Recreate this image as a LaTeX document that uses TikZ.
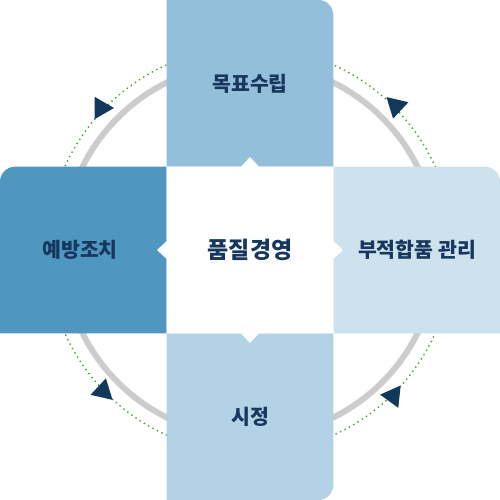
\documentclass[tikz,border=0pt]{standalone}
\usepackage{fontspec}
\newfontfamily\kr{Noto Sans CJK KR}
\definecolor{topc}{HTML}{93BFDA}
\definecolor{leftc}{HTML}{4F97C0}
\definecolor{rightc}{HTML}{CEE2EE}
\definecolor{botc}{HTML}{B3D2E5}
\definecolor{txtc}{HTML}{17375E}
\definecolor{arrc}{HTML}{12395C}
\definecolor{ringc}{HTML}{CCCCCC}
\definecolor{dotc}{HTML}{4E9A3A}
\tikzset{
  lbl/.style={font=\kr\bfseries\fontsize{20.5}{23}\selectfont, text=txtc, inner sep=0pt},
  clbl/.style={font=\kr\bfseries\fontsize{23}{26}\selectfont, text=txtc, inner sep=0pt},
  tri/.style={fill=arrc}
}
\begin{document}
\begin{tikzpicture}[x=1pt,y=1pt]
\useasboundingbox (0,0) rectangle (500,500);
% rings
\draw[ringc, line width=6pt] (250,250) circle[radius=187pt];
\draw[dotc, line width=1.4pt, dash pattern=on 1.4pt off 3.6pt] (250,250) circle[radius=203pt];
% boxes
\fill[topc] (166.7,333.3) -- (166.7,500) -- (318.3,500) arc[start angle=90,end angle=0,radius=15pt] -- (333.3,333.3) -- cycle;
\fill[leftc] (166.7,333.3) -- (15,333.3) arc[start angle=90,end angle=180,radius=15pt] -- (0,166.7) -- (166.7,166.7) -- cycle;
\fill[rightc] (333.3,166.7) -- (333.3,333.3) -- (485,333.3) arc[start angle=90,end angle=0,radius=15pt] -- (500,166.7) -- cycle;
\fill[botc] (166.7,166.7) -- (166.7,0) -- (318.3,0) arc[start angle=270,end angle=360,radius=15pt] -- (333.3,166.7) -- cycle;
% centre square with notches
\fill[white] (166.7,333.3) -- (241,333.3) -- (250,343) -- (259,333.3) -- (333.3,333.3)
  -- (333.3,259) -- (343,250) -- (333.3,241) -- (333.3,166.7)
  -- (259,166.7) -- (250,157) -- (241,166.7) -- (166.7,166.7)
  -- (166.7,241) -- (157,250) -- (166.7,259) -- cycle;
% arrow triangles
\fill[tri, shift={(101,392)}, rotate=0] (0:13pt) -- (120:13pt) -- (240:13pt) -- cycle;
\fill[tri, shift={(396,394)}, rotate=17] (0:13pt) -- (120:13pt) -- (240:13pt) -- cycle;
\fill[tri, shift={(393,104)}, rotate=54] (0:13pt) -- (120:13pt) -- (240:13pt) -- cycle;
\fill[tri, shift={(103,109)}, rotate=77] (0:13pt) -- (120:13pt) -- (240:13pt) -- cycle;
% labels
\node[lbl] (goal) at (250,416) {목표수립};
\node[lbl] (prev) at (80,250) {예방조치};
\node[lbl] (nonc) at (417,250) {부적합품 관리};
\node[lbl] (corr) at (250,83) {시정};
\node[clbl] (qm) at (250,250) {품질경영};
\end{tikzpicture}
\end{document}
